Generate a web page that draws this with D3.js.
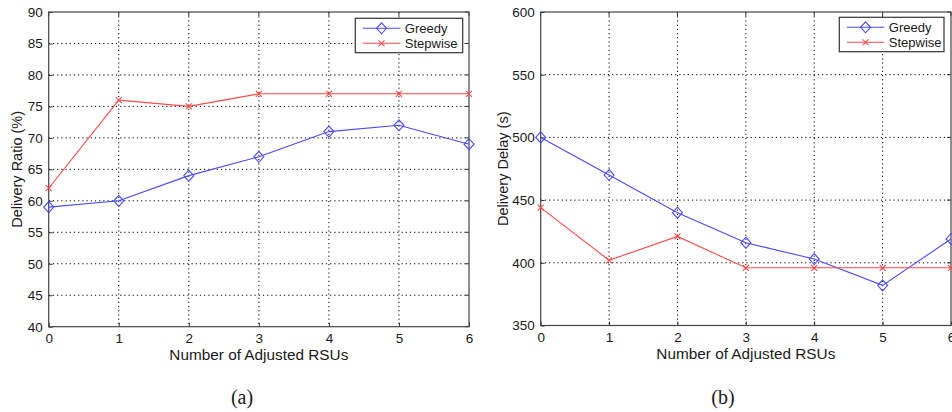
<!DOCTYPE html>
<html>
<head>
<meta charset="utf-8">
<script src="https://cdn.jsdelivr.net/npm/d3@7"></script>
<style>
  html, body { margin: 0; padding: 0; background: #fff; }
  svg { display: block; }
  text { font-family: "Liberation Sans", Arial, Helvetica, sans-serif; fill: #1a1a1a; }
</style>
</head>
<body>
<svg id="chart" width="952" height="412"></svg>
<script>
// ---- data ----
const categories = [0, 1, 2, 3, 4, 5, 6];
const seriesNames = ["Greedy", "Stepwise"];
const greedyRatio = [59, 60, 64, 67, 71, 72, 69];
const stepwiseRatio = [62, 76, 75, 77, 77, 77, 77];
const greedyDelay = [500, 470, 440, 416, 403, 382, 419];
const stepwiseDelay = [444, 402, 421, 396, 396, 396, 396];
const ratioTicks = [40, 45, 50, 55, 60, 65, 70, 75, 80, 85, 90];
const delayTicks = [350, 400, 450, 500, 550, 600];
const xTitle = "Number of Adjusted RSUs";
const ratioTitle = "Delivery Ratio (%)";
const delayTitle = "Delivery Delay (s)";
const captions = ["(a)", "(b)"];

const svg = d3.select("#chart");
const blue = "#4a4aff", red = "#ff4a4a";

function panel(opts) {
  const g = svg.append("g");
  const x = d3.scaleLinear().domain([categories[0], categories[categories.length - 1]]).range([opts.x0, opts.x1]);
  const y = d3.scaleLinear().domain([opts.ticks[0], opts.ticks[opts.ticks.length - 1]]).range([opts.y1, opts.y0]);

  // grid
  g.append("g").selectAll("line").data(categories.slice(1, -1)).join("line")
    .attr("x1", d => x(d)).attr("x2", d => x(d)).attr("y1", opts.y0).attr("y2", opts.y1)
    .attr("stroke", "#000").attr("stroke-width", 1).attr("stroke-dasharray", "1.2,3");
  g.append("g").selectAll("line").data(opts.ticks.slice(1, -1)).join("line")
    .attr("y1", d => y(d)).attr("y2", d => y(d)).attr("x1", opts.x0).attr("x2", opts.x1)
    .attr("stroke", "#000").attr("stroke-width", 1).attr("stroke-dasharray", "1.2,3");

  // axes (ticks inward)
  const xAxis = d3.axisBottom(x).tickValues(categories).tickSize(-4).tickPadding(7).tickFormat(d3.format("d"));
  const yAxis = d3.axisLeft(y).tickValues(opts.ticks).tickSize(-4).tickPadding(6).tickFormat(d3.format("d"));
  const gx = g.append("g").attr("transform", `translate(0,${opts.y1})`).call(xAxis);
  const gy = g.append("g").attr("transform", `translate(${opts.x0},0)`).call(yAxis);
  [gx, gy].forEach(a => {
    a.select(".domain").remove();
    a.selectAll(".tick line").attr("stroke", "#333");
    a.selectAll(".tick text").style("font-size", "13.5px").style("font-family", "'Liberation Sans', Arial, sans-serif").attr("fill", "#1a1a1a");
  });
  // top/right ticks
  g.append("g").selectAll("line").data(categories).join("line")
    .attr("x1", d => x(d)).attr("x2", d => x(d)).attr("y1", opts.y0).attr("y2", opts.y0 + 4).attr("stroke", "#333");
  g.append("g").selectAll("line").data(opts.ticks).join("line")
    .attr("y1", d => y(d)).attr("y2", d => y(d)).attr("x1", opts.x1).attr("x2", opts.x1 - 4).attr("stroke", "#333");

  // frame
  g.append("rect").attr("x", opts.x0).attr("y", opts.y0)
    .attr("width", opts.x1 - opts.x0).attr("height", opts.y1 - opts.y0)
    .attr("fill", "none").attr("stroke", "#444").attr("stroke-width", 1.2);

  // titles
  g.append("text").attr("x", (opts.x0 + opts.x1) / 2).attr("y", opts.y1 + 33)
    .attr("text-anchor", "middle").style("font-size", "14px")
    .attr("textLength", 179).attr("lengthAdjust", "spacingAndGlyphs").text(xTitle);
  g.append("text").attr("transform", `translate(${opts.yTitleX},${(opts.y0 + opts.y1) / 2}) rotate(-90)`)
    .attr("text-anchor", "middle").style("font-size", "14.5px").text(opts.yTitle);

  // series
  const line = d3.line().x((d, i) => x(categories[i])).y(d => y(d));
  const series = [
    { name: seriesNames[0], values: opts.greedy, color: blue, marker: "diamond" },
    { name: seriesNames[1], values: opts.stepwise, color: red, marker: "x" }
  ];
  const diamond = (cx, cy) => `M${cx},${cy - 5.5}L${cx + 5},${cy}L${cx},${cy + 5.5}L${cx - 5},${cy}Z`;
  const cross = (cx, cy) => `M${cx - 3},${cy - 3}L${cx + 3},${cy + 3}M${cx - 3},${cy + 3}L${cx + 3},${cy - 3}`;
  series.forEach(s => {
    g.append("path").datum(s.values).attr("d", line).attr("fill", "none")
      .attr("stroke", s.color).attr("stroke-width", 1.1);
    g.append("g").selectAll("path").data(s.values).join("path")
      .attr("d", (d, i) => s.marker === "diamond" ? diamond(x(categories[i]), y(d)) : cross(x(categories[i]), y(d)))
      .attr("fill", "none").attr("stroke", s.color).attr("stroke-width", 1.1);
  });

  // legend
  const L = opts.legend;
  const lg = g.append("g");
  lg.append("rect").attr("x", L.x).attr("y", L.y).attr("width", L.w).attr("height", L.h)
    .attr("fill", "#fff").attr("stroke", "#333").attr("stroke-width", 1.2);
  series.forEach((s, i) => {
    const ly = L.y + 10 + i * 15;
    const lx0 = L.x + 7.5, lx1 = L.x + 45;
    lg.append("line").attr("x1", lx0).attr("x2", lx1).attr("y1", ly).attr("y2", ly)
      .attr("stroke", s.color).attr("stroke-width", 1.1);
    const mx = (lx0 + lx1) / 2;
    lg.append("path").attr("d", s.marker === "diamond" ? diamond(mx, ly) : cross(mx, ly))
      .attr("fill", "none").attr("stroke", s.color).attr("stroke-width", 1.1);
    lg.append("text").attr("x", L.x + 49.5).attr("y", ly + 4.6)
      .style("font-size", "13px").text(s.name);
  });
}

panel({
  x0: 48.7, x1: 469, y0: 12, y1: 326.7, ticks: ratioTicks,
  greedy: greedyRatio, stepwise: stepwiseRatio, yTitle: ratioTitle, yTitleX: 22,
  legend: { x: 355.3, y: 18.3, w: 107.4, h: 34.4 }
});
panel({
  x0: 540.7, x1: 951, y0: 12, y1: 325.5, ticks: delayTicks,
  greedy: greedyDelay, stepwise: stepwiseDelay, yTitle: delayTitle, yTitleX: 508,
  legend: { x: 839.3, y: 17.3, w: 104.7, h: 34.4 }
});

// captions
svg.selectAll("text.caption").data(captions).join("text").attr("class", "caption")
  .attr("x", (d, i) => [242, 723][i]).attr("y", 403.5).attr("text-anchor", "middle")
  .style("font-family", "'Liberation Serif', 'Times New Roman', serif").style("font-size", "20px")
  .text(d => d);
</script>
</body>
</html>
